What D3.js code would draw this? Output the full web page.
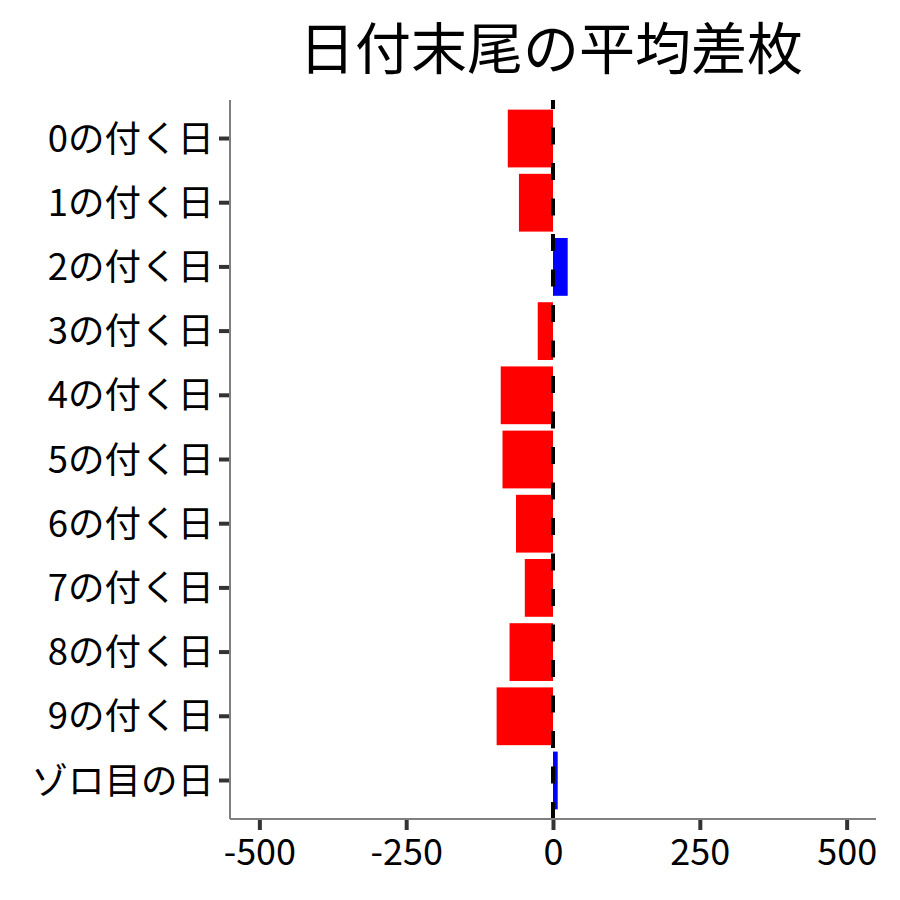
<!DOCTYPE html>
<html>
<head>
<meta charset="utf-8">
<script src="https://cdn.jsdelivr.net/npm/d3@7"></script>
<style>
    body { margin: 0; background: #fff; }
    text { font-family: "Noto Sans CJK JP", "Noto Sans", sans-serif; fill: #000; }
</style>
</head>
<body>
<div id="chart"></div>
<script>
// data
var categories = ["0の付く日", "1の付く日", "2の付く日", "3の付く日", "4の付く日",
    "5の付く日", "6の付く日", "7の付く日", "8の付く日", "9の付く日", "ゾロ目の日"];
var avgDiff = [-77, -58, 25, -26, -89, -86, -63, -48, -74, -96, 8];
var xTicks = [-500, -250, 0, 250, 500];
var chartTitle = "日付末尾の平均差枚";


DiffChart = function(_parentElement, _cats, _values){
    this.parentElement = _parentElement;
    this.cats = _cats;
    this.values = _values;
    this.displayData = _cats.map(function(c, i){ return {cat: c, value: _values[i]}; });

    this.initVis();
}

DiffChart.prototype.initVis = function() {
    var vis = this;
    vis.margin = {top: 100, right: 24, bottom: 81, left: 230};
    vis.width = 900 - vis.margin.left - vis.margin.right;
    vis.height = 900 - vis.margin.top - vis.margin.bottom;

    vis.svg = d3.select("#" + vis.parentElement).append("svg")
        .attr("width", 900)
        .attr("height", 900)
        .append("g")
        .attr("transform", "translate(" + vis.margin.left + "," + vis.margin.top + ")");

    vis.x = d3.scaleLinear()
        .domain([-550, 550])
        .range([0, vis.width]);

    vis.y = d3.scaleBand()
        .domain(vis.cats)
        .range([0, vis.height])
        .paddingInner(0.1)
        .paddingOuter(0.15);

    // title, centred on the panel
    vis.svg.append("text")
        .attr("x", vis.width / 2 - 2)
        .attr("y", -56)
        .attr("text-anchor", "middle")
        .attr("dominant-baseline", "central")
        .style("font-size", "56px")
        .text(chartTitle);

    vis.updateVis();
};

DiffChart.prototype.updateVis = function() {
    var vis = this;

    // bars
    vis.svg.selectAll(".bars")
        .data(vis.displayData)
        .enter().append("rect")
        .attr("class", "bars")
        .attr("x", function(d){ return vis.x(Math.min(0, d.value)); })
        .attr("y", function(d){ return vis.y(d.cat); })
        .attr("width", function(d){ return Math.abs(vis.x(d.value) - vis.x(0)); })
        .attr("height", vis.y.bandwidth())
        .attr("fill", function(d){ return d.value < 0 ? "#ff0000" : "#0000ff"; });

    // zero line (dashes start at the bottom)
    vis.svg.append("line")
        .attr("x1", vis.x(0)).attr("x2", vis.x(0))
        .attr("y1", vis.height).attr("y2", 0)
        .attr("stroke", "#000")
        .attr("stroke-width", 4)
        .attr("stroke-dasharray", "17,18.5");

    // y axis
    var yAxis = d3.axisLeft(vis.y).tickSize(11).tickPadding(5);
    var gy = vis.svg.append("g").attr("class", "y-axis axis").call(yAxis);
    gy.select(".domain").remove();
    gy.selectAll(".tick line").attr("stroke", "#333").attr("stroke-width", 4);
    gy.selectAll(".tick text")
        .style("font-size", "36.5px")
        .attr("dy", "0.36em");

    // x axis, plain hyphen for negatives
    var xAxis = d3.axisBottom(vis.x)
        .tickValues(xTicks)
        .tickFormat(function(d){ return String(d); })
        .tickSize(11).tickPadding(6);
    var gx = vis.svg.append("g")
        .attr("class", "x-axis axis")
        .attr("transform", "translate(0," + vis.height + ")")
        .call(xAxis);
    gx.select(".domain").remove();
    gx.selectAll(".tick line").attr("stroke", "#333").attr("stroke-width", 4);
    gx.selectAll(".tick text")
        .style("font-size", "36px")
        .attr("dy", "0.8em");

    // axis lines
    vis.svg.append("line")
        .attr("x1", 0).attr("x2", 0)
        .attr("y1", 0).attr("y2", vis.height)
        .attr("stroke", "#7f7f7f").attr("stroke-width", 2);
    vis.svg.append("line")
        .attr("x1", 0).attr("x2", vis.width)
        .attr("y1", vis.height).attr("y2", vis.height)
        .attr("stroke", "#7f7f7f").attr("stroke-width", 2);
};

var chart = new DiffChart("chart", categories, avgDiff);
</script>
</body>
</html>
